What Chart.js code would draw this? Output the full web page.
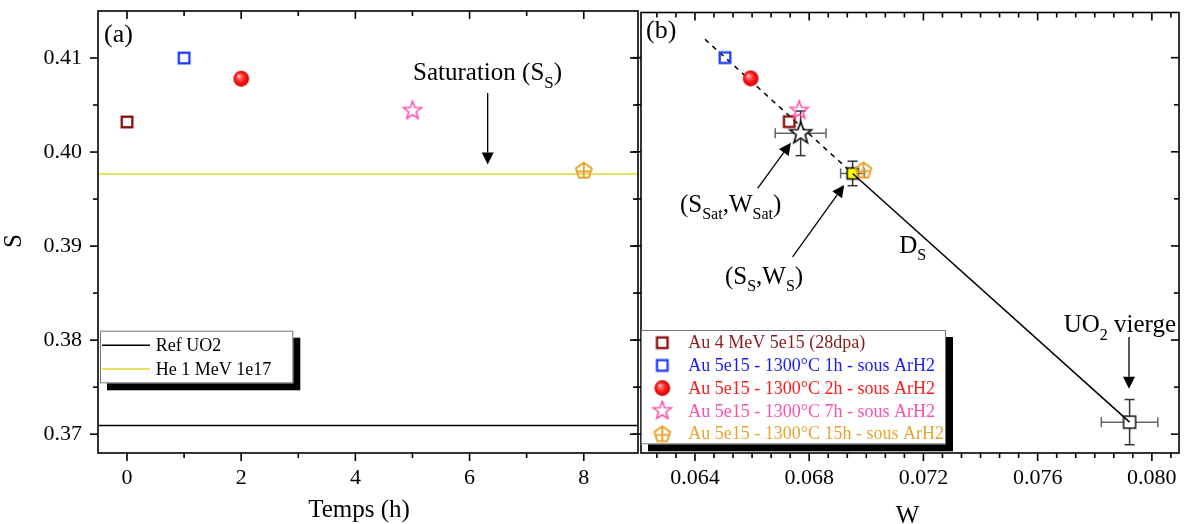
<!DOCTYPE html>
<html><head><meta charset="utf-8">
<script src="https://cdn.jsdelivr.net/npm/chart.js@4.4.1/dist/chart.umd.min.js"></script>
<style>
html,body{margin:0;padding:0;background:#fff;}
#wrap{position:relative;width:1188px;height:524px;overflow:hidden;background:#fff;}
#ca{position:absolute;left:0;top:0;width:640px;height:524px;}
#cb{position:absolute;left:600px;top:0;width:588px;height:524px;}
</style></head><body>
<div id="wrap"><canvas id="ca" width="640" height="524"></canvas><canvas id="cb" width="588" height="524"></canvas></div>
<script>
// ---------------- DATA ----------------
const seriesLabels = ['Au 4 MeV 5e15 (28dpa)', 'Au 5e15 - 1300°C 1h - sous ArH2', 'Au 5e15 - 1300°C 2h - sous ArH2', 'Au 5e15 - 1300°C 7h - sous ArH2', 'Au 5e15 - 1300°C 15h - sous ArH2'];
const timeH   = [0, 1, 2, 5, 8];
const sValues = [0.4032, 0.4100, 0.4078, 0.4044, 0.3981];
const wValues = [0.06730, 0.06505, 0.06595, 0.06765, 0.06990];
const refLineLabels = ['Ref UO2', 'He 1 MeV 1e17'];
const refLineS = [0.37093, 0.39766];
const satWS  = [0.06770, 0.40196];  const satErr = [0.00089, 0.00237];
const ssWS   = [0.06952, 0.39770];  const ssErr  = [0.00042, 0.00130];
const uo2WS  = [0.07922, 0.37128];  const uo2Err = [0.00099, 0.00240];
const dashStartWS = [0.06435, 0.41196];
const xTicksA = [0, 2, 4, 6, 8];
const yTicks  = [0.37, 0.38, 0.39, 0.40, 0.41];
const wTicks  = [0.064, 0.068, 0.072, 0.076, 0.080];

// ---------------- STYLE ----------------
const FONT = "'Liberation Serif', 'Times New Roman', Times, serif";
Chart.defaults.font.family = FONT;
Chart.defaults.color = '#000';
const COL = ['#8b0a0a', '#1c3cff', '#ff1414', '#ff4fae', '#e6a533'];
const TXT = ['#8b1a1a', '#1a1aff', '#ff1a1a', '#ff4fae', '#e6a533'];
const YEL = '#e3d62c';

function mk(size, draw){ const c=document.createElement('canvas'); c.width=c.height=size; const g=c.getContext('2d'); draw(g,size/2); return c; }
function starPath(g,c,R,r){ g.beginPath(); for(let i=0;i<10;i++){ const a=-Math.PI/2+i*Math.PI/5, rr=i%2?r:R; const px=c+rr*Math.cos(a), py=c+rr*Math.sin(a); i?g.lineTo(px,py):g.moveTo(px,py);} g.closePath(); }
const markers = [
  mk(18,(g,c)=>{g.strokeStyle=COL[0]; g.lineWidth=2.3; g.strokeRect(c-5.3,c-5.3,10.6,10.6);}),
  mk(18,(g,c)=>{g.strokeStyle=COL[1]; g.lineWidth=2.3; g.strokeRect(c-5.3,c-5.3,10.6,10.6);}),
  mk(20,(g,c)=>{const gr=g.createRadialGradient(c-2.6,c-2.8,0.3,c,c,7.9); gr.addColorStop(0,'#ffe6e6'); gr.addColorStop(0.22,'#ff6a6a'); gr.addColorStop(0.6,'#ff1a1a'); gr.addColorStop(1,'#d00000'); g.fillStyle=gr; g.beginPath(); g.arc(c,c,7.9,0,Math.PI*2); g.fill();}),
  mk(24,(g,c)=>{starPath(g,c,9.5,4.0); g.strokeStyle=COL[3]; g.lineWidth=1.6; g.stroke();}),
  mk(22,(g,c)=>{const R=8.3; const pts=[]; for(let i=0;i<5;i++){const a=-Math.PI/2+i*2*Math.PI/5; pts.push([c+R*Math.cos(a), c+1+R*Math.sin(a)]);} g.beginPath(); pts.forEach((p,i)=>i?g.lineTo(p[0],p[1]):g.moveTo(p[0],p[1])); g.closePath(); g.strokeStyle=COL[4]; g.lineWidth=2; g.stroke(); g.beginPath(); g.moveTo(pts[0][0],pts[0][1]); g.lineTo(c,c+1+R*0.809); g.moveTo(c-R*0.85,c+1.5); g.lineTo(c+R*0.85,c+1.5); g.stroke();})
];
const satMarker = mk(28,(g,c)=>{starPath(g,c,11.5,4.7); g.fillStyle='#fff'; g.fill(); g.strokeStyle='#000'; g.lineWidth=1.6; g.stroke();});
const ssMarker  = mk(18,(g,c)=>{g.fillStyle='#ffff00'; g.fillRect(c-5.5,c-5.5,11,11); g.strokeStyle='#000'; g.lineWidth=1.5; g.strokeRect(c-5.5,c-5.5,11,11);});
const uo2Marker = mk(18,(g,c)=>{g.fillStyle='#fff'; g.fillRect(c-6,c-6,12,12); g.strokeStyle='#000'; g.lineWidth=1.4; g.strokeRect(c-6,c-6,12,12);});

// ---------------- PLUGINS ----------------
function seg(ctx,x1,y1,x2,y2){ctx.beginPath();ctx.moveTo(x1,y1);ctx.lineTo(x2,y2);ctx.stroke();}
function stepVals(min,max,step){const out=[];const k0=Math.ceil(min/step-1e-7),k1=Math.floor(max/step+1e-7);for(let k=k0;k<=k1;k++)out.push(k*step);return out;}
function noPad(s){s.paddingTop=0;s.paddingBottom=0;s.paddingLeft=0;s.paddingRight=0;}
const framePlugin = {
  id:'frame',
  afterDatasetsDraw(chart,args,o){
    const {ctx,chartArea:a,scales:{x,y}}=chart;
    ctx.save(); ctx.strokeStyle='#000'; ctx.lineWidth=1.6;
    const isMaj=(v,list,st)=>list.some(m=>Math.abs(m-v)<st*0.01);
    stepVals(x.min,x.max,o.xStep).forEach(v=>{const p=x.getPixelForValue(v); if(p<a.left+1.5||p>a.right-1.5)return; const L=isMaj(v,o.xMaj,o.xStep)?8:5; seg(ctx,p,a.bottom,p,a.bottom+L); seg(ctx,p,a.top,p,a.top+L);});
    stepVals(y.min,y.max,o.yStep).forEach(v=>{const p=y.getPixelForValue(v); if(p<a.top+1.5||p>a.bottom-1.5)return; const L=isMaj(v,o.yMaj,o.yStep)?8:5; seg(ctx,a.left-L,p,a.left,p); seg(ctx,a.right-L,p,a.right,p);});
    ctx.strokeRect(a.left,a.top,a.right-a.left,a.bottom-a.top);
    ctx.restore();
  }
};
const errPlugin = {
  id:'errbars',
  beforeDatasetsDraw(chart,args,o){
    const {ctx,scales:{x,y}}=chart; ctx.save(); ctx.lineWidth=1.5;
    (o.bars||[]).forEach(b=>{
      const cx=x.getPixelForValue(b[0]), cy=y.getPixelForValue(b[1]);
      const xl=x.getPixelForValue(b[0]-b[2]), xr=x.getPixelForValue(b[0]+b[2]);
      const yt=y.getPixelForValue(b[1]+b[3]), yb=y.getPixelForValue(b[1]-b[3]);
      ctx.strokeStyle='#666'; seg(ctx,xl,cy,xr,cy); seg(ctx,xl,cy-5,xl,cy+5); seg(ctx,xr,cy-5,xr,cy+5);
      ctx.strokeStyle='#333'; seg(ctx,cx,yt,cx,yb); seg(ctx,cx-5,yt,cx+5,yt); seg(ctx,cx-5,yb,cx+5,yb);
    });
    ctx.restore();
  }
};
function rich(ctx,x,y,parts,size,sub,align){
  let w=0; parts.forEach(p=>{ctx.font=(p[1]?sub:size)+'px '+FONT; w+=ctx.measureText(p[0]).width;});
  let cx=align==='center'?x-w/2:x;
  parts.forEach(p=>{ctx.font=(p[1]?sub:size)+'px '+FONT; ctx.fillText(p[0],cx,y+(p[1]?size*0.3:0)); cx+=ctx.measureText(p[0]).width;});
}
function arrow(ctx,x1,y1,x2,y2){
  const ang=Math.atan2(y2-y1,x2-x1), L=12, W=6;
  const bx=x2-L*Math.cos(ang), by=y2-L*Math.sin(ang);
  ctx.lineWidth=1.3; seg(ctx,x1,y1,bx,by);
  ctx.beginPath(); ctx.moveTo(x2,y2); ctx.lineTo(bx+W*Math.sin(ang),by-W*Math.cos(ang)); ctx.lineTo(bx-W*Math.sin(ang),by+W*Math.cos(ang)); ctx.closePath(); ctx.fill();
}
const annPlugin = {
  id:'ann',
  afterDraw(chart,args,o){
    const {ctx,scales:{x,y}}=chart; ctx.save(); ctx.fillStyle='#000'; ctx.strokeStyle='#000'; ctx.textBaseline='alphabetic';
    (o.texts||[]).forEach(t=>{ const px=t.px?t.at[0]:x.getPixelForValue(t.at[0]); const py=t.px?t.at[1]:y.getPixelForValue(t.at[1]);
      if(t.rot){ctx.save(); ctx.translate(px,py); ctx.rotate(-Math.PI/2); rich(ctx,0,0,t.parts,t.size,t.sub||16,'center'); ctx.restore();}
      else rich(ctx,px,py,t.parts,t.size,t.sub||16,t.align||'left'); });
    (o.arrows||[]).forEach(r=>arrow(ctx,x.getPixelForValue(r[0]),y.getPixelForValue(r[1]),x.getPixelForValue(r[2]),y.getPixelForValue(r[3])));
    ctx.restore();
  }
};
const legPlugin = {
  id:'leg',
  afterDraw(chart,args,o){
    const ctx=chart.ctx; ctx.save();
    ctx.fillStyle='#000'; ctx.fillRect(o.box[0]+7,o.box[1]+7,o.box[2],o.box[3]);
    ctx.fillStyle='#fff'; ctx.fillRect(o.box[0],o.box[1],o.box[2],o.box[3]);
    ctx.strokeStyle='#777'; ctx.lineWidth=1; ctx.strokeRect(o.box[0]+0.5,o.box[1]+0.5,o.box[2]-1,o.box[3]-1);
    ctx.font='18px '+FONT; ctx.textBaseline='middle';
    o.items.forEach((it,i)=>{ const yy=o.row0+i*o.rowH;
      if(it.line){ctx.strokeStyle=it.line; ctx.lineWidth=1.5; seg(ctx,o.sym[0],yy,o.sym[1],yy);}
      else ctx.drawImage(it.img,o.sym[0]-it.img.width/2,yy-it.img.height/2);
      ctx.fillStyle=it.color; ctx.fillText(it.label,o.textX,yy+1);
    });
    ctx.restore();
  }
};

// ---------------- CHART (a) ----------------
const xMinA=-0.508, xMaxA=8.95;
const tickFont={size:22,family:FONT};
const dsA = refLineLabels.map((lab,i)=>({label:lab,data:[{x:xMinA,y:refLineS[i]},{x:xMaxA,y:refLineS[i]}],showLine:true,pointRadius:0,borderColor:i?YEL:'#000',borderWidth:i?1.6:1.5,order:10}));
seriesLabels.forEach((lab,i)=>dsA.push({label:lab,data:[{x:timeH[i],y:sValues[i]}],pointStyle:markers[i],pointRadius:8,order:[6,6,6,3,2][i]}));
new Chart(document.getElementById('ca'),{
  type:'scatter',
  data:{datasets:dsA},
  options:{responsive:false,animation:false,devicePixelRatio:1,
    layout:{autoPadding:false,padding:{left:0,right:2,top:11,bottom:0}},
    plugins:{legend:{display:false},tooltip:{enabled:false},
      frame:{xStep:1,xMaj:xTicksA,yStep:0.005,yMaj:yTicks},
      leg:{box:[100,330.7,193.3,52.6],row0:345.3,rowH:23.7,sym:[102,150],textX:155.7,
        items:refLineLabels.map((l,i)=>({line:i?YEL:'#000',label:l,color:'#000'}))},
      ann:{texts:[
        {at:[104,41.7],px:true,parts:[['(a)',0]],size:26},
        {at:[21,241],px:true,rot:true,parts:[['S',0]],size:25},
        {at:[359,516.7],px:true,align:'center',parts:[['Temps (h)',0]],size:25},
        {at:[5.01,0.40763],parts:[['Saturation (S',0],['S',1],[')',0]],size:25,sub:17}],
        arrows:[[6.317,0.40628,6.317,0.39869]]}
    },
    scales:{
      x:{type:'linear',min:xMinA,max:xMaxA,afterBuildTicks:s=>{s.ticks=xTicksA.map(v=>({value:v}));},afterFit:s=>{s.height=71;noPad(s);},
        grid:{display:false,drawTicks:false},border:{display:false},
        ticks:{font:tickFont,color:'#000',padding:12,maxRotation:0,autoSkip:false,callback:v=>String(v)}},
      y:{type:'linear',min:0.368,max:0.415,afterBuildTicks:s=>{s.ticks=yTicks.map(v=>({value:v}));},afterFit:s=>{s.width=98;noPad(s);},
        grid:{display:false,drawTicks:false},border:{display:false},
        ticks:{font:tickFont,color:'#000',padding:16,autoSkip:false,callback:v=>v.toFixed(2)}}
    }},
  plugins:[errPlugin,framePlugin,legPlugin,annPlugin]
});

// ---------------- CHART (b) ----------------
const dsB = [
  {label:'Ds',data:[{x:ssWS[0],y:ssWS[1]},{x:uo2WS[0],y:uo2WS[1]}],showLine:true,pointRadius:0,borderColor:'#000',borderWidth:1.5,order:0},
  {label:'dash',data:[{x:dashStartWS[0],y:dashStartWS[1]},{x:ssWS[0],y:ssWS[1]}],showLine:true,pointRadius:0,borderColor:'#000',borderWidth:1.5,borderDash:[5,5],order:20},
  {label:'sat',data:[{x:satWS[0],y:satWS[1]}],pointStyle:satMarker,pointRadius:8,order:1},
  {label:'Ss',data:[{x:ssWS[0],y:ssWS[1]}],pointStyle:ssMarker,pointRadius:8,order:5},
  {label:'UO2',data:[{x:uo2WS[0],y:uo2WS[1]}],pointStyle:uo2Marker,pointRadius:8,order:4}
];
seriesLabels.forEach((lab,i)=>dsB.push({label:lab,data:[{x:wValues[i],y:sValues[i]}],pointStyle:markers[i],pointRadius:8,order:[6,6,6,3,2][i]}));
new Chart(document.getElementById('cb'),{
  type:'scatter',
  data:{datasets:dsB},
  options:{responsive:false,animation:false,devicePixelRatio:1,
    layout:{autoPadding:false,padding:{left:0,right:9,top:12.5,bottom:0}},
    plugins:{legend:{display:false},tooltip:{enabled:false},
      frame:{xStep:0.004/6,xMaj:wTicks,yStep:0.005,yMaj:yTicks},
      errbars:{bars:[[satWS[0],satWS[1],satErr[0],satErr[1]],[ssWS[0],ssWS[1],ssErr[0],ssErr[1]],[uo2WS[0],uo2WS[1],uo2Err[0],uo2Err[1]]]},
      leg:{box:[41,330,305,114.3],row0:342.7,rowH:22.7,sym:[62.3,0],textX:88.3,
        items:seriesLabels.map((l,i)=>({img:markers[i],label:l,color:TXT[i]}))},
      ann:{texts:[
        {at:[46,38],px:true,parts:[['(b)',0]],size:26},
        {at:[307.5,523],px:true,align:'center',parts:[['W',0]],size:25},
        {at:[0.063475,0.39362],parts:[['(S',0],['Sat',1],[',W',0],['Sat',1],[')',0]],size:25,sub:16},
        {at:[0.065050,0.38600],parts:[['(S',0],['S',1],[',W',0],['S',1],[')',0]],size:25,sub:16},
        {at:[0.071150,0.38930],parts:[['D',0],['S',1]],size:25,sub:16},
        {at:[0.076913,0.38085],parts:[['UO',0],['2',1],[' vierge',0]],size:25,sub:16}],
        arrows:[[0.066194,0.39611,0.067360,0.40096],[0.067419,0.38883,0.069225,0.39646],[0.079199,0.38032,0.079199,0.37483]]}
    },
    scales:{
      x:{type:'linear',min:0.06211,max:0.08095,afterBuildTicks:s=>{s.ticks=wTicks.map(v=>({value:v}));},afterFit:s=>{s.height=71;noPad(s);},
        grid:{display:false,drawTicks:false},border:{display:false},
        ticks:{font:tickFont,color:'#000',padding:12,maxRotation:0,autoSkip:false,callback:v=>v.toFixed(3)}},
      y:{type:'linear',min:0.368,max:0.4148,afterBuildTicks:s=>{s.ticks=yTicks.map(v=>({value:v}));},afterFit:s=>{s.width=41;noPad(s);},
        grid:{display:false,drawTicks:false},border:{display:false},
        ticks:{display:false}}
    }},
  plugins:[errPlugin,framePlugin,legPlugin,annPlugin]
});
</script></body></html>
